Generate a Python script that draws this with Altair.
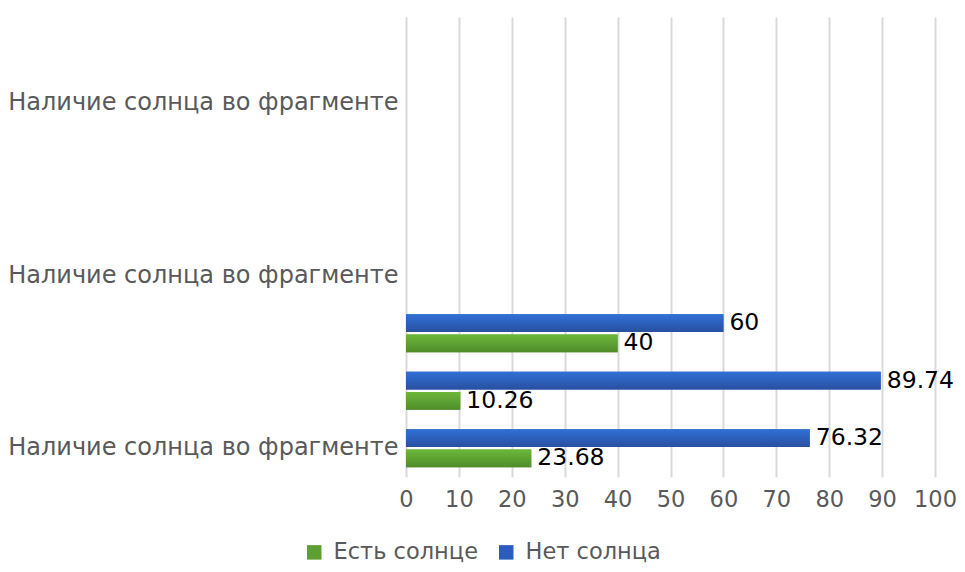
import altair as alt
import pandas as pd

# ---- data ----
categories = ["1", "2", "3", "4", "5", "6", "7", "8"]
category_labels = ["Наличие солнца во фрагменте"] * 8
shown_label_cats = ["1", "4", "7"]
series_names = ["Есть солнце", "Нет солнца"]
sun_yes = [23.68, 10.26, 40]
sun_no = [76.32, 89.74, 60]
series_colors = ["#5e9f31", "#2c5cbd"]
grad_colors = [("#6cb83a", "#4f8c2a"), ("#3070d6", "#2850a0")]
x_ticks = [0, 10, 20, 30, 40, 50, 60, 70, 80, 90, 100]

rows = []
for i, (a, b) in enumerate(zip(sun_yes, sun_no)):
    rows.append({"cat": categories[i], "series": series_names[0], "value": a})
    rows.append({"cat": categories[i], "series": series_names[1], "value": b})
df = pd.DataFrame(rows)

# label expression built from the label list
expr = "''"
for c in reversed(categories):
    idx = categories.index(c)
    expr = f"datum.value == '{c}' ? '{category_labels[idx]}' : ({expr})"

y_enc = alt.Y(
    "cat:N",
    scale=alt.Scale(domain=list(reversed(categories)), paddingInner=0.34, paddingOuter=0.17),
    axis=alt.Axis(
        title=None, values=shown_label_cats, labelExpr=expr, ticks=False, domain=False,
        labelFontSize=24, labelColor="#595959", labelPadding=8, labelLimit=600,
    ),
)
yoff_enc = alt.YOffset(
    "series:N",
    scale=alt.Scale(domain=[series_names[1], series_names[0]], paddingInner=0.125, paddingOuter=0),
)
x_enc = alt.X(
    "value:Q",
    scale=alt.Scale(domain=[0, 100], nice=False),
    axis=alt.Axis(
        title=None, values=x_ticks, grid=True, gridColor="#d9d9d9", gridWidth=2,
        domain=False, ticks=False, labelFontSize=22.5, labelColor="#595959", labelPadding=11,
        labelOverlap=False, labelFlush=False,
    ),
)

base = alt.Chart(df)

bars = base.mark_bar().encode(
    x=x_enc,
    y=y_enc,
    yOffset=yoff_enc,
    color=alt.Color(
        "series:N",
        scale=alt.Scale(domain=series_names, range=series_colors),
        legend=alt.Legend(
            title=None, orient="none", legendX=-103, legendY=524, direction="horizontal",
            symbolType="square", symbolSize=210, symbolStrokeWidth=0, labelFontSize=22.5,
            labelColor="#595959", labelOffset=8, columnPadding=17,
        ),
    ),
)

grad_layers = []
for name, (c1, c2) in zip(series_names, grad_colors):
    grad_layers.append(
        base.transform_filter(alt.datum.series == name)
        .mark_bar(
            color=alt.Gradient(
                gradient="linear",
                stops=[alt.GradientStop(color=c1, offset=0), alt.GradientStop(color=c2, offset=1)],
                x1=0, x2=0, y1=0, y2=1,
            )
        )
        .encode(x="value:Q", y="cat:N", yOffset="series:N")
    )

labels = base.mark_text(align="left", baseline="middle", dx=6, fontSize=23.5, color="#000000").encode(
    x="value:Q", y="cat:N", yOffset="series:N", text=alt.Text("value:Q", format="")
)

chart = (
    alt.layer(bars, *grad_layers, labels)
    .properties(
        width=529, height=460,
        autosize=alt.AutoSizeParams(type="none"),
        padding={"left": 398, "top": 9, "right": 22, "bottom": 87},
    )
    .configure(font="DejaVu Sans")
    .configure_view(stroke=None)
)

chart.save("out.html", embed_options={"renderer": "svg", "actions": False})
